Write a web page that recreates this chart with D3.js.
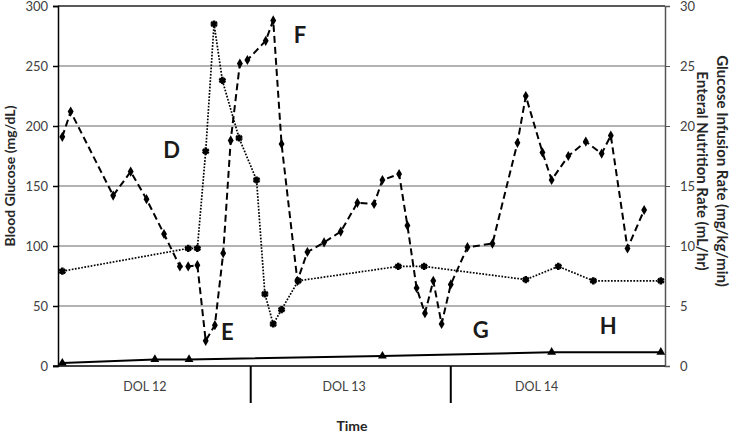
<!DOCTYPE html>
<html>
<head>
<meta charset="utf-8">
<script src="https://cdn.jsdelivr.net/npm/d3@7"></script>
<style>
  body { margin: 0; background: #fff; }
  svg { display: block; }
</style>
</head>
<body>
<svg id="chart" width="732" height="435"></svg>
<script>
// hours since start of DOL 12
const glucoseHours = [1.4, 2.4, 7.5, 9.6, 11.5, 13.6, 15.5, 16.5, 17.6, 18.6, 19.7, 20.7, 21.6, 22.7, 23.6,
  25.8, 26.7, 27.7, 29.6, 30.8, 32.8, 34.8, 36.8, 38.8, 39.8, 41.8, 42.8, 43.9, 44.9, 45.9, 46.9, 48,
  50, 53, 56, 57, 59, 60.1, 62.1, 64.2, 66.1, 67.2, 69.2, 71.2];
const glucoseValues = [191, 212, 142, 162, 139, 110, 83, 83, 84, 21, 34, 94, 188, 252, 255,
  271, 288, 185, 71, 95, 103, 112, 136, 135, 155, 160, 117, 65, 44, 71, 35, 68,
  99, 102, 186, 225, 178, 155, 175, 187, 177, 192, 98, 130];

const girHours = [1.4, 16.5, 17.6, 18.6, 19.6, 20.6, 22.6, 24.7, 25.7, 26.7, 27.7, 29.7, 41.7, 44.8, 57, 60.9, 65.1, 73.2];
const girValues = [7.9, 9.8, 9.8, 17.9, 28.5, 23.8, 19.0, 15.5, 6.0, 3.5, 4.7, 7.1, 8.3, 8.3, 7.2, 8.3, 7.1, 7.1];

const enHours = [1.4, 12.5, 16.6, 39.8, 60.1, 73.2];
const enValues = [0.25, 0.55, 0.55, 0.83, 1.15, 1.15];

const dayLabels = ["DOL 12", "DOL 13", "DOL 14"];
const dayLabelHours = [11.3, 35.2, 58.3];
const dayBreaks = [24, 48];

const leftTicks = [0, 50, 100, 150, 200, 250, 300];
const rightTicks = [0, 5, 10, 15, 20, 25, 30];

const notes = ["D", "E", "F", "G", "H"];
const noteHours = [14.5, 21.2, 29.9, 51.6, 66.9];
const noteValues = [180, 28, 276, 30, 33];

const svg = d3.select("#chart")
  .attr("font-family", "Lato, 'Open Sans', sans-serif");

const margin = {top: 6, right: 67, bottom: 69, left: 58};
const W = 732, H = 435;

const x = d3.scaleLinear().domain([0.88, 73.7]).range([margin.left, W - margin.right]);
const yL = d3.scaleLinear().domain([0, 300]).range([H - margin.bottom, margin.top]);
const yR = d3.scaleLinear().domain([0, 30]).range([H - margin.bottom, margin.top]);

// gridlines
svg.append("g")
  .selectAll("line")
  .data(leftTicks.slice(1))
  .join("line")
  .attr("x1", margin.left).attr("x2", W - margin.right)
  .attr("y1", d => yL(d)).attr("y2", d => yL(d))
  .attr("stroke", d => d == 300 ? "#222" : "#9a9a9a")
  .attr("stroke-width", 1.5);

// left axis
svg.append("g")
  .attr("transform", `translate(${margin.left},0)`)
  .call(d3.axisLeft(yL).tickValues(leftTicks).tickSize(5).tickPadding(5))
  .call(g => g.selectAll("text").attr("font-size", 13).attr("fill", "#404040")
    .attr("font-family", "Lato, sans-serif").attr("dy", "0.34em"))
  .call(g => g.selectAll("line, path").attr("stroke", "#000").attr("stroke-width", 1.5));

// right axis
svg.append("g")
  .attr("transform", `translate(${W - margin.right},0)`)
  .call(d3.axisRight(yR).tickValues(rightTicks).tickSize(5).tickPadding(10))
  .call(g => g.selectAll("text").attr("font-size", 13).attr("fill", "#404040")
    .attr("font-family", "Lato, sans-serif").attr("dy", "0.34em"))
  .call(g => g.select(".domain").attr("stroke", "#555").attr("stroke-width", 1.5))
  .call(g => g.selectAll(".tick line").attr("stroke", "#555"));

// bottom axis line + day dividers
svg.append("line")
  .attr("x1", margin.left - 5).attr("x2", W - margin.right)
  .attr("y1", yL(0)).attr("y2", yL(0))
  .attr("stroke", "#000").attr("stroke-width", 1.5);

svg.append("g")
  .selectAll("line")
  .data(dayBreaks)
  .join("line")
  .attr("x1", d => x(d)).attr("x2", d => x(d))
  .attr("y1", yL(0)).attr("y2", yL(0) + 37)
  .attr("stroke", "#000").attr("stroke-width", 2);

svg.append("g")
  .selectAll("text")
  .data(dayLabels)
  .join("text")
  .attr("x", (d, i) => x(dayLabelHours[i]))
  .attr("y", yL(0) + 25)
  .attr("text-anchor", "middle")
  .attr("font-size", 12.5)
  .attr("fill", "#404040")
  .text(d => d);

// axis titles
svg.append("text")
  .attr("transform", "translate(15,176) rotate(-90)")
  .attr("text-anchor", "middle")
  .attr("font-size", 14)
  .attr("font-weight", "bold")
  .attr("fill", "#262626")
  .text("Blood Glucose (mg/dL)");

svg.append("text")
  .attr("transform", "translate(717,171) rotate(90)")
  .attr("text-anchor", "middle")
  .attr("font-size", 15)
  .attr("font-weight", "bold")
  .attr("fill", "#262626")
  .text("Glucose Infusion Rate (mg/kg/min)");

svg.append("text")
  .attr("transform", "translate(697,171) rotate(90)")
  .attr("text-anchor", "middle")
  .attr("font-size", 15)
  .attr("font-weight", "bold")
  .attr("fill", "#262626")
  .text("Enteral Nutrition Rate (mL/hr)");

svg.append("text")
  .attr("x", 352).attr("y", 431)
  .attr("text-anchor", "middle")
  .attr("font-size", 14)
  .attr("font-weight", "bold")
  .attr("fill", "#262626")
  .text("Time");

// series
const glucose = glucoseHours.map((h, i) => [h, glucoseValues[i]]);
const gir = girHours.map((h, i) => [h, girValues[i]]);
const en = enHours.map((h, i) => [h, enValues[i]]);

const lineL = d3.line().x(d => x(d[0])).y(d => yL(d[1]));
const lineR = d3.line().x(d => x(d[0])).y(d => yR(d[1]));

svg.append("path")
  .datum(en)
  .attr("d", lineR)
  .attr("fill", "none")
  .attr("stroke", "#000")
  .attr("stroke-width", 2);

svg.append("path")
  .datum(gir)
  .attr("d", lineR)
  .attr("fill", "none")
  .attr("stroke", "#000")
  .attr("stroke-width", 1.7)
  .attr("stroke-dasharray", "1.7,1.5");

svg.append("path")
  .datum(glucose)
  .attr("d", lineL)
  .attr("fill", "none")
  .attr("stroke", "#000")
  .attr("stroke-width", 2)
  .attr("stroke-dasharray", "7,4");

// markers
svg.append("g")
  .selectAll("path")
  .data(en)
  .join("path")
  .attr("transform", d => `translate(${x(d[0])},${yR(d[1])})`)
  .attr("d", d3.symbol(d3.symbolTriangle, 34))
  .attr("fill", "#000");

svg.append("g")
  .selectAll("path")
  .data(gir)
  .join("path")
  .attr("transform", d => `translate(${x(d[0])},${yR(d[1])})`)
  .attr("d", d3.symbol(d3.symbolAsterisk, 36))
  .attr("fill", "none")
  .attr("stroke", "#000")
  .attr("stroke-width", 2.6);

svg.append("g")
  .selectAll("path")
  .data(glucose)
  .join("path")
  .attr("transform", d => `translate(${x(d[0])},${yL(d[1])})`)
  .attr("d", d3.symbol(d3.symbolDiamond, 30))
  .attr("fill", "#000");

// annotation letters
svg.append("g")
  .selectAll("text")
  .data(notes)
  .join("text")
  .attr("x", (d, i) => x(noteHours[i]))
  .attr("y", (d, i) => yL(noteValues[i]))
  .attr("dy", "0.36em")
  .attr("text-anchor", "middle")
  .attr("font-size", 22)
  .attr("font-weight", "bold")
  .attr("fill", "#1a1a1a")
  .text(d => d);
</script>
</body>
</html>
